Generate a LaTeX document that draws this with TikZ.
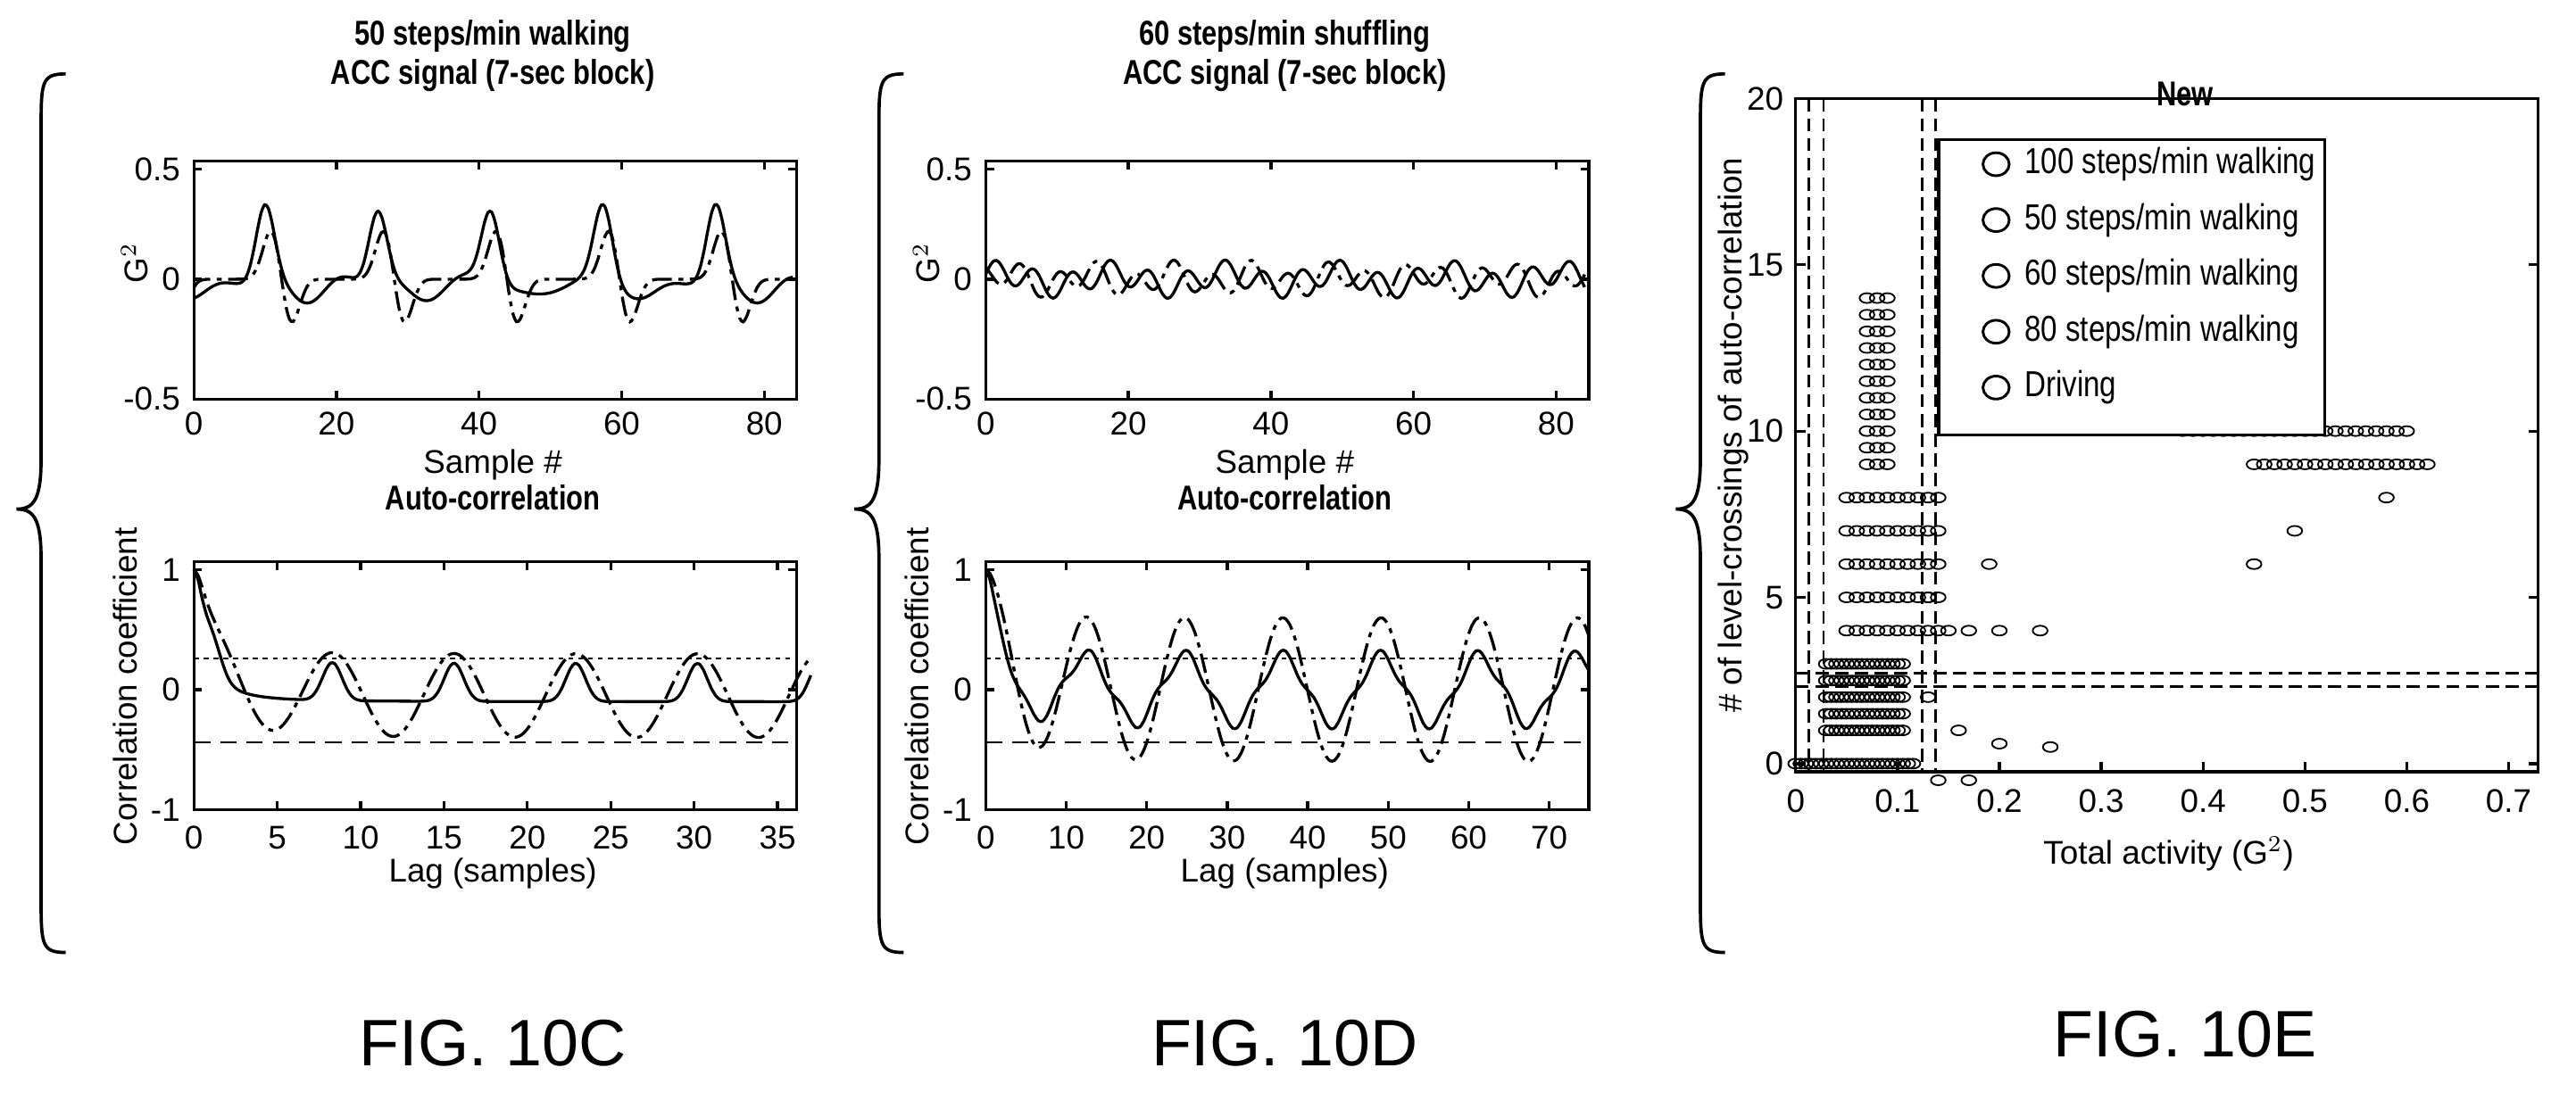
\documentclass[tikz,border=0pt]{standalone}
\usepackage{fontspec}
\usepackage{graphicx}
\setmainfont{Liberation Sans}
\begin{document}
\begin{tikzpicture}[x=0.5pt,y=-0.5pt,
  lbl/.style={font=\fontsize{10}{11}\selectfont,inner sep=0pt},
  ttl/.style={font=\fontsize{10.5}{12}\selectfont\bfseries,inner sep=0pt},
  fig/.style={font=\fontsize{20}{22}\selectfont,inner sep=0pt},
  ax/.style={line width=0.9pt},
  sig/.style={line width=0.9pt},
  dd/.style={line width=0.9pt,dash pattern=on 6pt off 2pt on 1.5pt off 2pt},
  pt/.style={line width=0.5pt},
  declare function={q(\t,\c,\p)=0.5+0.5*cos((360/\p)*(\t-\c));
    pk(\t,\c,\p)=q(\t,\c,\p)*q(\t,\c,\p)*q(\t,\c,\p)*q(\t,\c,\p)*q(\t,\c,\p)*q(\t,\c,\p)*q(\t,\c,\p)*q(\t,\c,\p);
    dc(\t,\a)=1/(1+\a*\t*\t);}]
\useasboundingbox (0,0) rectangle (1568,670);
% braces
\foreach \bx in {0,510,1010}{
 \draw[line width=1pt] (\bx+40,45) .. controls (\bx+25,45) and (\bx+25,50) .. (\bx+25,80) -- (\bx+25,280) .. controls (\bx+25,305) and (\bx+20,310) .. (\bx+10,310) .. controls (\bx+20,310) and (\bx+25,315) .. (\bx+25,340) -- (\bx+25,545) .. controls (\bx+25,575) and (\bx+25,580) .. (\bx+40,580);
}
\foreach \ox in {0,482}{
 \draw[ax] (118+\ox,98) rectangle (485+\ox,243);
 \draw[ax] (118+\ox,342) rectangle (485+\ox,493);
}
\node[ttl] (t1) at (300,22) {\scalebox{0.8}[1]{50 steps/min walking}};
\node[ttl] (t2) at (300,46) {\scalebox{0.8}[1]{ACC signal (7-sec block)}};
\node[ttl] (t3) at (782,22) {\scalebox{0.8}[1]{60 steps/min shuffling}};
\node[ttl] (t4) at (782,46) {\scalebox{0.8}[1]{ACC signal (7-sec block)}};
\foreach \ox in {0,482}{
 \begin{scope}[shift={(\ox,0)}]
 \foreach \v/\yy in {0.5/103,0/170,-0.5/243} \node[lbl,anchor=east] at (110,\yy) {\v};
 \node[lbl,rotate=90] at (82,160) {G$^2$};
 \foreach \s in {0,20,40,60,80}{
   \draw[ax] ({118+\s*4.34},243) -- ({118+\s*4.34},238);
   \draw[ax] ({118+\s*4.34},98) -- ({118+\s*4.34},103);
   \node[lbl] at ({118+\s*4.34},258) {\s};}
 \foreach \yy in {103,170,243}{\draw[ax] (118,\yy) -- (123,\yy); \draw[ax] (485,\yy)--(480,\yy);}
 \node[lbl] at (300,283) {Sample \#};
 \node[ttl] at (300,303) {\scalebox{0.8}[1]{Auto-correlation}};
 \foreach \v/\yy in {1/347,0/420,-1/493} \node[lbl,anchor=east] at (110,\yy) {\v};
 \node[lbl,rotate=90] at (76,418) {Correlation coefficient};
 \foreach \yy in {347,420,493}{\draw[ax] (118,\yy) -- (123,\yy); \draw[ax] (485,\yy)--(480,\yy);}
 \node[lbl] at (300,532) {Lag (samples)};
 \draw[line width=0.7pt,dash pattern=on 1.5pt off 1.5pt] (118,401) -- (485,401);
 \draw[line width=0.7pt,dash pattern=on 5pt off 3pt] (118,452) -- (485,452);
 \end{scope}
}
\foreach \s in {0,5,...,35}{
 \draw[ax] ({118+\s*10.15},493) -- ({118+\s*10.15},488);
 \draw[ax] ({118+\s*10.15},342) -- ({118+\s*10.15},347);
 \node[lbl] at ({118+\s*10.15},510) {\s};}
\foreach \s in {0,10,...,70}{
 \draw[ax] ({600+\s*4.9},493) -- ({600+\s*4.9},488);
 \draw[ax] ({600+\s*4.9},342) -- ({600+\s*4.9},347);
 \node[lbl] at ({600+\s*4.9},510) {\s};}
\node[fig] at (300,635) {FIG. 10C};
\node[fig] at (782,635) {FIG. 10D};
% C top
\draw[sig,smooth,samples=170,domain=0:84] plot ({118+4.34*\x},{170-146*(0.3*pk(\x,10,15.8)-0.08*q(\x,16,15.8)*q(\x,16,15.8)+0.02*sin(40*\x))});
\draw[dd,smooth,samples=170,domain=0:84] plot ({118+4.34*\x},{170-146*(0.22*pk(\x,11,15.8)-0.2*pk(\x,13.5,15.8))});
% C bottom
\draw[sig,smooth,samples=150,domain=0:37] plot ({118+10.15*\x},{420-73*(dc(\x,1.5)+(1-dc(\x,1.5))*(0.32*pk(\x,8.3,7.3)-0.1))});
\draw[dd,smooth,samples=150,domain=0:37] plot ({118+10.15*\x},{420-73*(dc(\x,1)+(1-dc(\x,1))*(0.35*cos(49.3*(\x-8.3))-0.05))});
% D top
\draw[sig,smooth,samples=170,domain=0:84] plot ({600+4.34*\x},{170-146*(0.05*sin(67*\x)+0.03*sin(23*\x+40))});
\draw[dd,smooth,samples=170,domain=0:84] plot ({600+4.34*\x},{170-146*(0.05*sin(67*\x+120)+0.03*sin(31*\x))});
% D bottom
\draw[sig,smooth,samples=150,domain=0:75] plot ({600+4.9*\x},{420-73*(dc(\x,0.5)+(1-dc(\x,0.5))*(0.28*cos(29.5*(\x-12.5))+0.05*sin(90*\x)))});
\draw[dd,smooth,samples=150,domain=0:75] plot ({600+4.9*\x},{420-73*(dc(\x,0.3)+(1-dc(\x,0.3))*(0.6*cos(29.5*(\x-12.5))))});
% ===== Panel E =====
\draw[ax] (1093,60) rectangle (1545,470);
\node[ttl] at (1330,57) {\scalebox{0.8}[1]{New}};
\foreach \v in {0,5,10,15,20}{
 \draw[ax] (1093,{465-\v*20.25}) -- (1099,{465-\v*20.25});
 \draw[ax] (1545,{465-\v*20.25}) -- (1539,{465-\v*20.25});
 \node[lbl,anchor=east] at (1086,{465-\v*20.25}) {\v};}
\foreach \v/\t in {0/0,1/0.1,2/0.2,3/0.3,4/0.4,5/0.5,6/0.6,7/0.7}{
 \draw[ax] ({1093+\v*62},470) -- ({1093+\v*62},464);
 \node[lbl] at ({1093+\v*62},488) {\t};}
\node[lbl,rotate=90] at (1055,265) {\# of level-crossings of auto-correlation};
\node[lbl] at (1320,520) {Total activity (G$^2$)};
\node[fig] at (1330,630) {FIG. 10E};
\def\c#1#2{\draw[pt] ({1093+620*(#1)},{465-20.25*(#2)}) ellipse [x radius=4.5, y radius=3];}
 \foreach \x in {0,0.005,...,0.12} \c{\x}{0};
 \foreach \y in {1,1.5,2,2.5,3}{\foreach \x in {0.03,0.035,...,0.11} \c{\x}{\y};}
 \foreach \y in {4,5,6,7,8}{\foreach \x in {0.05,0.06,...,0.14} \c{\x}{\y};}
 \foreach \x in {0.15,0.17,0.2,0.24} \c{\x}{4};
 \c{0.19}{6}\c{0.13}{5}\c{0.16}{1}\c{0.13}{2}\c{0.25}{0.5}\c{0.14}{-0.5}\c{0.17}{-0.5}\c{0.2}{0.6}
 \foreach \y in {9,9.5,...,14}{\foreach \x in {0.07,0.08,0.09} \c{\x}{\y};}
 \foreach \x in {0.38,0.39,...,0.6} \c{\x}{10};
 \foreach \x in {0.45,0.46,...,0.63} \c{\x}{9};
 \c{0.58}{8}\c{0.49}{7}\c{0.45}{6}
\draw[line width=0.7pt,dash pattern=on 4pt off 2pt] (1101,60) -- (1101,470);
\draw[line width=0.7pt,dash pattern=on 4pt off 2pt] (1110,60) -- (1110,470);
\draw[line width=0.7pt,dash pattern=on 4pt off 2pt] (1170,60) -- (1170,470);
\draw[line width=0.7pt,dash pattern=on 4pt off 2pt] (1178,60) -- (1178,470);
\draw[line width=0.7pt,dash pattern=on 4pt off 2pt] (1093,410) -- (1545,410);
\draw[line width=0.7pt,dash pattern=on 4pt off 2pt] (1093,418) -- (1545,418);
% legend
\draw[ax,fill=white] (1180,85) rectangle (1415,265);
\foreach \t [count=\i] in {100 steps/min walking,50 steps/min walking,60 steps/min walking,80 steps/min walking,Driving}{
 \draw[line width=0.8pt] (1215,{66+\i*34}) ellipse [x radius=8, y radius=7];
 \node[lbl,anchor=west] at (1232,{66+\i*34}) {\scalebox{0.9}[1.1]{\t}};}
\end{tikzpicture}
\end{document}
